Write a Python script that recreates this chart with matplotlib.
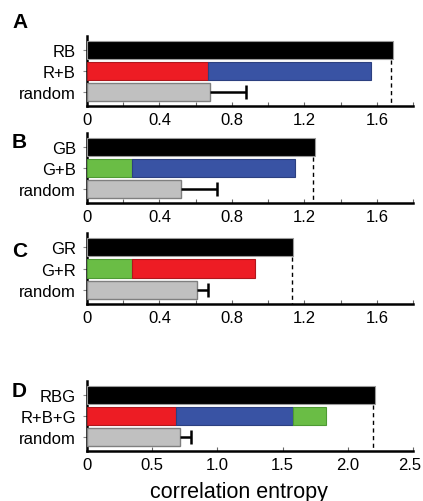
import matplotlib
matplotlib.use("Agg")
import matplotlib.pyplot as plt
import matplotlib.transforms as mtransforms
from matplotlib.ticker import MultipleLocator

plt.rcParams['font.family'] = ['Liberation Sans', 'DejaVu Sans']

# ---- data ----
panel_letters = ['A', 'B', 'C', 'D']
joint_labels = ['RB', 'GB', 'GR', 'RBG']
sum_labels = ['R+B', 'G+B', 'G+R', 'R+B+G']
joint_values = [1.69, 1.26, 1.14, 2.21]
# stacked components of the sum bar (value, channel)
sum_components = [
    [(0.67, 'R'), (0.90, 'B')],
    [(0.25, 'G'), (0.90, 'B')],
    [(0.25, 'G'), (0.68, 'R')],
    [(0.68, 'R'), (0.90, 'B'), (0.25, 'G')],
]
random_values = [0.68, 0.52, 0.61, 0.71]
random_errors = [0.20, 0.20, 0.06, 0.09]
x_limits = [1.8, 1.8, 1.8, 2.5]
x_minor = [0.2, 0.2, 0.2, 0.5]
x_ticklabels = [['0', '0.4', '0.8', '1.2', '1.6'],
                ['0', '0.4', '0.8', '1.2', '1.6'],
                ['0', '0.4', '0.8', '1.2', '1.6'],
                ['0', '0.5', '1.0', '1.5', '2.0', '2.5']]
x_tickvals = [[0, 0.4, 0.8, 1.2, 1.6]] * 3 + [[0, 0.5, 1.0, 1.5, 2.0, 2.5]]

colors = {'R': '#ED1C24', 'B': '#3953A4', 'G': '#6ABD45'}
edge = {'R': '#B0161C', 'B': '#2C4080', 'G': '#4E9A33'}

W, H = 423, 502
fig = plt.figure(figsize=(W / 100, H / 100), dpi=100)

# axes pixel boxes (top, bottom)
boxes = [(37, 107), (134, 204), (234, 305), (382, 452)]
letter_top = [13, 133, 242, 382]
left_px, right_px = 87, 413

bh = 0.86
for i in range(4):
    top, bot = boxes[i]
    ax = fig.add_axes([left_px / W, 1 - bot / H, (right_px - left_px) / W, (bot - top) / H])
    # joint bar (y=2), sum bar (y=1), random (y=0)
    ax.barh(2, joint_values[i], height=bh, color='black', edgecolor='#9a9a9a', linewidth=0.8, zorder=3)
    start = 0.0
    for val, ch in sum_components[i]:
        ax.barh(1, val, left=start, height=bh, color=colors[ch], edgecolor=edge[ch],
                linewidth=0.8, zorder=3)
        start += val
    ax.barh(0, random_values[i], height=bh, color='#C0C0C0', edgecolor='#7f7f7f',
            linewidth=1.0, zorder=3)
    # one-sided error bar with a cap only at the far end
    ax.hlines(0, random_values[i], random_values[i] + random_errors[i], color='black',
              linewidth=1.8, zorder=4)
    ax.plot([random_values[i] + random_errors[i]], [0], marker='|', markersize=10,
            markeredgewidth=1.8, color='black', zorder=4)
    ax.plot([joint_values[i] - 0.006 * x_limits[i]] * 2, [2 - bh / 2 - 0.05, -0.67],
            linestyle=(0, (3, 2.5)), color='black', linewidth=1.0, zorder=2)

    ax.set_xlim(0, x_limits[i])
    ax.set_ylim(-0.67, 2.67)
    ax.set_yticks([0, 1, 2])
    ax.set_yticklabels(['random', sum_labels[i], joint_labels[i]], fontsize=12)
    ax.set_xticks(x_tickvals[i])
    ax.set_xticklabels(x_ticklabels[i], fontsize=12)
    ax.xaxis.set_minor_locator(MultipleLocator(x_minor[i]))
    ax.tick_params(axis='x', which='both', direction='in', length=3, width=0.8,
                   color='#666666', pad=4)
    ax.tick_params(axis='y', direction='out', length=3, width=0.8, color='#888888', pad=5)
    for s in ['top', 'right']:
        ax.spines[s].set_visible(False)
    ax.spines['left'].set_linewidth(1.8)
    ax.spines['bottom'].set_linewidth(1.8)

    fig.text(12 / W, 1 - letter_top[i] / H, panel_letters[i], fontsize=15,
             fontweight='bold', ha='left', va='top')

    if i == 3:
        ax.set_xlabel('correlation entropy', fontsize=15.5)
        ax.xaxis.set_label_coords(0.465, -0.43)
        last = ax.get_xticklabels()[-1]
        last.set_transform(last.get_transform() +
                           mtransforms.ScaledTranslation(-3 / 100, 0, fig.dpi_scale_trans))

fig.savefig('out.png', dpi=100)
